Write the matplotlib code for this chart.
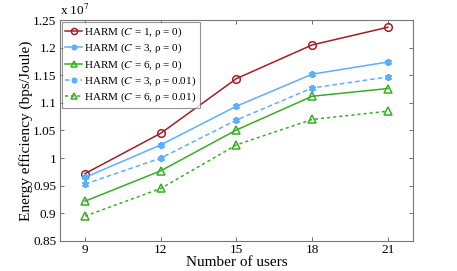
import matplotlib
matplotlib.use('Agg')
import matplotlib.pyplot as plt
from matplotlib.ticker import FuncFormatter

plt.rcParams['font.family'] = 'Liberation Serif'
plt.rcParams['mathtext.fontset'] = 'stix'

users = [9, 12, 15, 18, 21]
c1_r0 = [0.972, 1.045, 1.144, 1.205, 1.237]
c3_r0 = [0.965, 1.024, 1.094, 1.152, 1.174]
c6_r0 = [0.922, 0.977, 1.051, 1.112, 1.126]
c3_r001 = [0.953, 1.000, 1.069, 1.127, 1.147]
c6_r001 = [0.895, 0.945, 1.024, 1.070, 1.085]

red = '#a31f24'
blue = '#5ab0ff'
green = '#35b022'

fig = plt.figure(figsize=(4.57, 2.71), dpi=100)
ax = fig.add_axes([0.131, 0.111, 0.773, 0.815])

ax.plot(users, c1_r0, '-', color=red, marker='o', ms=5.5, mfc='none', mew=1.1, lw=1.1,
        label='HARM ($C$ = 1, ρ = 0)')
ax.plot(users, c3_r0, '-', color=blue, marker=(6, 2, 0), ms=5, mew=1.5, lw=1.1,
        label='HARM ($C$ = 3, ρ = 0)')
ax.plot(users, c6_r0, '-', color=green, marker='^', ms=6, mfc='none', mew=1.1, lw=1.1,
        label='HARM ($C$ = 6, ρ = 0)')
ax.plot(users, c3_r001, '--', color=blue, marker=(6, 2, 0), ms=5, mew=1.5, lw=1.1,
        dashes=(3, 2), label='HARM ($C$ = 3, ρ = 0.01)')
ax.plot(users, c6_r001, '--', color=green, marker='^', ms=6, mfc='none', mew=1.1, lw=1.1,
        dashes=(2, 2), label='HARM ($C$ = 6, ρ = 0.01)')

ax.set_xlim(8, 22)
ax.set_ylim(0.85, 1.25)
ax.set_xticks(users)
ax.set_yticks([0.85, 0.9, 0.95, 1.0, 1.05, 1.1, 1.15, 1.2, 1.25])
ax.yaxis.set_major_formatter(FuncFormatter(lambda v, p: '%g' % round(v, 2)))
ax.tick_params(direction='in', top=True, right=True, labelsize=9.5, length=3,
               color='#555555', width=0.6, pad=2.5)
for s in ax.spines.values():
    s.set_color('#777777')
    s.set_linewidth(0.8)

ax.set_xlabel('Number of users', fontsize=11, labelpad=0)
ax.set_ylabel('Energy efficiency (bps/Joule)', fontsize=11, labelpad=0)
fig.text(0.131, 0.935, 'x 10$^{7}$', fontsize=9.5, ha='left', va='bottom')

leg = ax.legend(loc='upper left', fontsize=8, frameon=True, fancybox=False,
                borderpad=0.3, labelspacing=0.25, handlelength=1.5, handletextpad=0.2,
                borderaxespad=0.2, markerscale=0.8)
leg.get_frame().set_edgecolor('#777777')
leg.get_frame().set_linewidth(0.8)

fig.savefig('out.png', dpi=100)
